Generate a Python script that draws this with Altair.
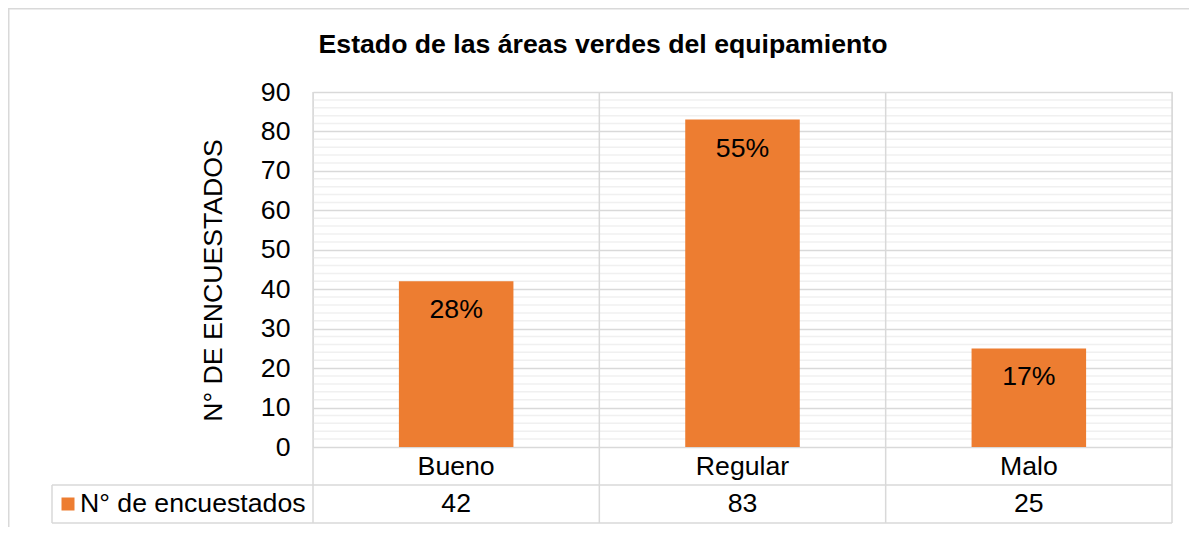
import altair as alt
import pandas as pd

# ---- data ----
categories = ["Bueno", "Regular", "Malo"]
counts = [42, 83, 25]
percents = ["28%", "55%", "17%"]
y_ticks = [0, 10, 20, 30, 40, 50, 60, 70, 80, 90]
minor_ticks = [v for v in range(2, 90, 2) if v % 10 != 0]
chart_title = "Estado de las áreas verdes del equipamiento"
y_title = "N° DE ENCUESTADOS"
series_name = "N° de encuestados"

df = pd.DataFrame({"cat": categories, "n": counts, "pct": percents})
minor_df = pd.DataFrame({"v": minor_ticks})
one = pd.DataFrame({"s": [series_name], "t": [chart_title]})

W, H = 859, 355
FONT = "Liberation Sans"
FS = 26.67
ORANGE = "#ED7D31"
GRID = "#d9d9d9"
MINOR = "#f0f0f0"

xs = alt.Scale(domain=categories, paddingInner=0, paddingOuter=0)
ys = alt.Scale(domain=[0, 90], nice=False)

x_axis = alt.Axis(title=None, labelFontSize=FS, labelFont=FONT, labelColor="#000",
                  labelPadding=19, labelBaseline="middle", ticks=False, domain=False,
                  labelAngle=0, grid=False)
y_axis = alt.Axis(values=y_ticks, title=y_title, titleFontSize=FS, titleFont=FONT,
                  titleFontWeight="normal", titleColor="#000", titleX=-100, titleY=188,
                  titleAlign="center", titleBaseline="middle",
                  labelFontSize=FS, labelFont=FONT, labelColor="#000", labelPadding=23,
                  labelOverlap=False, labelBaseline="middle",
                  ticks=False, domain=False, grid=True, gridColor=GRID, gridWidth=1.5)

x_enc = alt.X("cat:N", scale=xs, sort=categories, axis=x_axis)

minor = alt.Chart(minor_df).mark_rule(color=MINOR, strokeWidth=1.5).encode(
    y=alt.Y("v:Q", scale=ys, axis=y_axis)
)

bars = alt.Chart(df).mark_bar(color=ORANGE, width=alt.RelativeBandSize(0.4)).encode(
    x=x_enc, y=alt.Y("n:Q", scale=ys, axis=y_axis),
)

pct_text = alt.Chart(df).mark_text(fontSize=FS, font=FONT, color="#000", dy=29, baseline="middle").encode(
    x=x_enc, y=alt.Y("n:Q", scale=ys, axis=y_axis), text="pct:N"
)

vals_text = alt.Chart(df).mark_text(fontSize=FS, font=FONT, color="#000", baseline="middle").encode(
    x=x_enc, y=alt.value(412), text="n:Q"
)

# table lines
vsep = alt.Chart(df).mark_rule(color=GRID, strokeWidth=1.5).encode(
    x=alt.X("cat:N", scale=xs, sort=categories, bandPosition=0, axis=x_axis),
    y=alt.value(0), y2=alt.value(431)
)
right_edge = alt.Chart(one).mark_rule(color=GRID, strokeWidth=1.5).encode(
    x=alt.value(W), y=alt.value(0), y2=alt.value(431)
)
h1 = alt.Chart(one).mark_rule(color=GRID, strokeWidth=1.5).encode(
    x=alt.value(-261), x2=alt.value(W), y=alt.value(393)
)
h2 = alt.Chart(one).mark_rule(color=GRID, strokeWidth=1.5).encode(
    x=alt.value(-261), x2=alt.value(W), y=alt.value(431)
)
legend_left = alt.Chart(one).mark_rule(color=GRID, strokeWidth=1.5).encode(
    x=alt.value(-261), y=alt.value(393), y2=alt.value(431)
)
# outer chart frame (at the canvas edge)
frame_left = alt.Chart(one).mark_rule(color=GRID, strokeWidth=3).encode(
    x=alt.value(-305), y=alt.value(-84), y2=alt.value(445)
)
frame_top = alt.Chart(one).mark_rule(color=GRID, strokeWidth=3).encode(
    x=alt.value(-305), x2=alt.value(W + 30), y=alt.value(-84)
)

legend_sq = alt.Chart(one).mark_point(shape="square", filled=True, size=169, color=ORANGE, opacity=1).encode(
    x=alt.value(-245), y=alt.value(412)
)
legend_txt = alt.Chart(one).mark_text(align="left", baseline="middle", fontSize=FS, font=FONT, color="#000").encode(
    x=alt.value(-233), y=alt.value(412), text="s:N"
)
title_txt = alt.Chart(one).mark_text(align="center", baseline="middle", fontSize=FS, font=FONT,
                                     fontWeight="bold", color="#000").encode(
    x=alt.value(290), y=alt.value(-47), text="t:N"
)

chart = alt.layer(
    minor, bars, pct_text, vals_text, vsep, right_edge, h1, h2, legend_left,
    frame_left, frame_top, legend_sq, legend_txt, title_txt,
).properties(
    width=W, height=H,
    autosize=alt.AutoSizeParams(type="none"),
    padding={"left": 305, "top": 84, "right": 17, "bottom": 80},
).configure_view(stroke=None).configure(background="white")

chart.save("out.html", embed_options={"renderer": "svg", "actions": False})
